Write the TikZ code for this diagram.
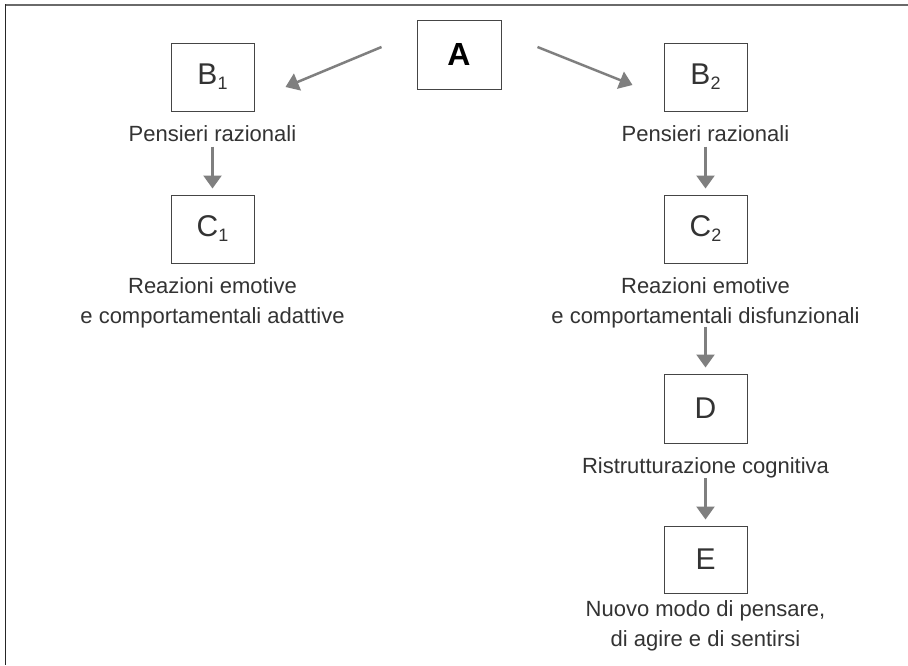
\documentclass[tikz,border=0pt]{standalone}
\usepackage{fontspec}
\setmainfont{Liberation Sans}
\usetikzlibrary{arrows.meta}
\definecolor{boxline}{HTML}{454545}
\definecolor{txt}{HTML}{333333}
\definecolor{arrowgray}{HTML}{7F7F7F}
\definecolor{topgray}{HTML}{6A6A6A}
\definecolor{leftdark}{HTML}{262626}
\newcommand{\lowsub}[1]{\raisebox{-5pt}{\fontsize{18}{18}\selectfont #1}}
\begin{document}
\begin{tikzpicture}[x=1pt,y=-1pt,
  letterbox/.style={draw=boxline, line width=1pt, minimum width=83pt, minimum height=68pt,
    inner sep=0pt, text=txt, font=\fontsize{30}{30}\selectfont},
  caption/.style={text=txt, font=\fontsize{22}{29.5}\selectfont, align=center,
    inner sep=0pt, anchor=north},
  arr/.style={draw=arrowgray, line width=2.5pt, -{Triangle[width=18pt,length=13pt]}}]
\useasboundingbox (0,0) rectangle (908,665);
\fill[white] (0,0) rectangle (908,665);
% frame
\draw[line width=2pt, topgray] (5,4.5) -- (908,4.5);
\draw[line width=1.5pt, leftdark] (5.5,4) -- (5.5,665);
% boxes
\node[letterbox, minimum width=84pt, minimum height=69pt,
  font=\fontsize{32}{32}\selectfont\bfseries, text=black] (A) at (459,54.5) {A};
\node[letterbox] (B1) at (212.5,77) {B\lowsub{1}};
\node[letterbox] (B2) at (705.5,77) {B\lowsub{2}};
\node[letterbox] (C1) at (212.5,229) {C\lowsub{1}};
\node[letterbox] (C2) at (705.5,229) {C\lowsub{2}};
\node[letterbox, minimum height=69pt] (D) at (705.5,408.5) {D};
\node[letterbox, minimum height=67pt] (E) at (705.5,559.5) {E};
% captions
\node[caption] (pr1) at (212.5,125.5) {Pensieri razionali};
\node[caption] (pr2) at (705.5,125.5) {Pensieri razionali};
\node[caption] (re1) at (212.5,277.5) {Reazioni emotive\\e comportamentali adattive};
\node[caption] (re2) at (705.5,277.5) {Reazioni emotive\\e comportamentali disfunzionali};
\node[caption] (rc) at (705.5,457) {Ristrutturazione cognitiva};
\node[caption] (nm) at (705.5,600.5) {Nuovo modo di pensare,\\di agire e di sentirsi};
% connectors
\draw[arr] ([xshift=-35pt,yshift=7.5pt]A.west) -- ([xshift=31pt,yshift=-10pt]B1.east);
\draw[arr] ([xshift=36pt,yshift=7.5pt]A.east) -- ([xshift=-31pt,yshift=-8pt]B2.west);
\draw[arr] ([yshift=-21pt]pr1.north) -- ([yshift=6pt]C1.north);
\draw[arr] ([yshift=-21pt]pr2.north) -- ([yshift=6pt]C2.north);
\draw[arr] ([yshift=-49pt]re2.north) -- ([yshift=6pt]D.north);
\draw[arr] ([yshift=-21pt]rc.north) -- ([yshift=6pt]E.north);
\end{tikzpicture}
\end{document}
